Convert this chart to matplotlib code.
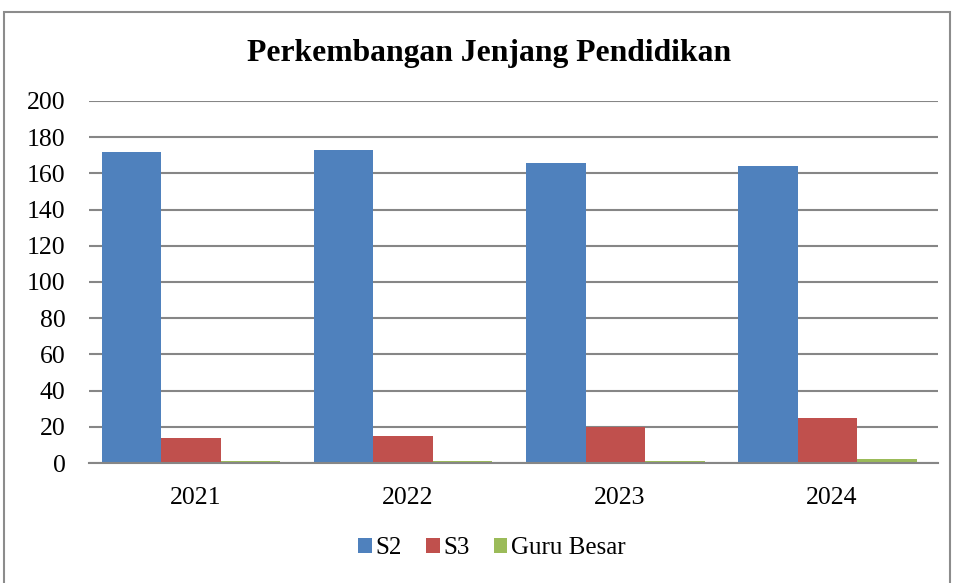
import numpy as np
import matplotlib.pyplot as plt
from matplotlib.patches import Rectangle

plt.rcParams['font.family'] = ['Liberation Serif', 'DejaVu Serif']

years = ['2021', '2022', '2023', '2024']
s2 = [172, 173, 166, 164]
s3 = [14, 15, 20, 25]
guru_besar = [1, 1, 1, 2]

series = [('S2', s2, '#4F81BD'), ('S3', s3, '#C0504D'), ('Guru Besar', guru_besar, '#9BBB59')]

fig = plt.figure(figsize=(9.55, 5.83), dpi=100)
ax = fig.add_axes([89 / 955, 1 - 463 / 583, 849 / 955, 362 / 583])

# chart frame
fig.patches.append(Rectangle((4 / 955, -0.05), 946 / 955, 1.05 - 12 / 583,
                             transform=fig.transFigure, fill=False,
                             edgecolor='#8c8c8c', linewidth=1.5))

x = np.arange(len(years))
w = 0.28
for i, (name, vals, col) in enumerate(series):
    ax.bar(x + (i - 1) * w - 0.02, vals, w, color=col, label=name, zorder=3)

ax.set_xlim(-0.5, len(years) - 0.5)
ax.set_ylim(0, 200)
ax.set_yticks(range(0, 201, 20))
ax.set_xticks(x)
ax.set_xticklabels(years)
ax.tick_params(axis='both', length=0, labelsize=18.5, colors='black')
ax.tick_params(axis='y', pad=17)
ax.tick_params(axis='x', pad=17)
ax.grid(axis='y', color='#868686', linewidth=1.5, zorder=0)
for s in ['left', 'right', 'top']:
    ax.spines[s].set_visible(False)
ax.spines['bottom'].set_color('#868686')
ax.spines['bottom'].set_linewidth(1.5)
ax.spines['bottom'].set_zorder(4)

fig.text(489 / 955, 1 - 54 / 583, 'Perkembangan Jenjang Pendidikan',
         ha='center', va='center', fontsize=22.8, fontweight='bold')

fig.legend(loc='center', bbox_to_anchor=(492 / 955, 1 - 548 / 583), ncol=3,
           frameon=False, fontsize=18, handlelength=0.55, handleheight=0.55,
           handletextpad=0.15, columnspacing=0.95)

fig.savefig('out.png', dpi=100)
